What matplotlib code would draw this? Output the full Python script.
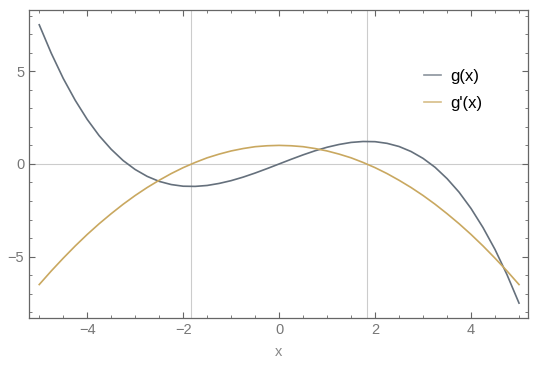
import matplotlib.pyplot as plt
from matplotlib.ticker import MultipleLocator

# sample points
x = [-5.0, -4.75, -4.5, -4.25, -4.0, -3.75, -3.5, -3.25, -3.0, -2.75, -2.5,
     -2.25, -2.0, -1.75, -1.5, -1.25, -1.0, -0.75, -0.5, -0.25, 0.0,
     0.25, 0.5, 0.75, 1.0, 1.25, 1.5, 1.75, 2.0, 2.25, 2.5,
     2.75, 3.0, 3.25, 3.5, 3.75, 4.0, 4.25, 4.5, 4.75, 5.0]
g = [7.5, 5.97, 4.61, 3.43, 2.4, 1.52, 0.79, 0.18, -0.3, -0.67, -0.94,
     -1.11, -1.2, -1.21, -1.16, -1.05, -0.9, -0.71, -0.49, -0.25, 0.0,
     0.25, 0.49, 0.71, 0.9, 1.05, 1.16, 1.21, 1.2, 1.11, 0.94,
     0.67, 0.3, -0.18, -0.79, -1.52, -2.4, -3.43, -4.61, -5.97, -7.5]
dg = [-6.5, -5.77, -5.08, -4.42, -3.8, -3.22, -2.68, -2.17, -1.7, -1.27, -0.88,
      -0.52, -0.2, 0.08, 0.33, 0.53, 0.7, 0.83, 0.93, 0.98, 1.0,
      0.98, 0.93, 0.83, 0.7, 0.53, 0.33, 0.08, -0.2, -0.52, -0.88,
      -1.27, -1.7, -2.17, -2.68, -3.22, -3.8, -4.42, -5.08, -5.77, -6.5]
grid_x = [-1.83, 1.83]
grid_y = [0]

plt.rcParams['font.family'] = ['Liberation Sans', 'DejaVu Sans']

fig = plt.figure(figsize=(5.4, 3.68), dpi=100)
ax = fig.add_axes([0.054, 0.136, 0.924, 0.837])

for gx in grid_x:
    ax.axvline(gx, color="#cccccc", lw=0.8, zorder=0)
for gy in grid_y:
    ax.axhline(gy, color="#cccccc", lw=0.8, zorder=0)

ax.plot(x, g, color="#65707c", lw=1.2, label="g(x)")
ax.plot(x, dg, color="#c9a860", lw=1.2, label="g'(x)")

ax.set_xlim(-5.21, 5.19)
ax.set_ylim(-8.3, 8.3)
ax.xaxis.set_major_locator(MultipleLocator(2))
ax.xaxis.set_minor_locator(MultipleLocator(0.5))
ax.yaxis.set_major_locator(MultipleLocator(5))
ax.yaxis.set_minor_locator(MultipleLocator(1))
ax.tick_params(which="both", direction="in", top=True, right=True,
               color="#666666", labelcolor="#777777", labelsize=10.5)
ax.tick_params(which="major", length=4, width=0.8)
ax.tick_params(which="minor", length=2.5, width=0.6)
for s in ax.spines.values():
    s.set_color("#666666")
    s.set_linewidth(0.9)

ax.set_xlabel("x", color="#888888", fontsize=10.5, labelpad=6)

leg = ax.legend(loc="upper left", bbox_to_anchor=(0.762, 0.856), frameon=False,
                handlelength=1.0, handletextpad=0.55, fontsize=12, labelspacing=0.7)
for h in leg.get_lines():
    h.set_alpha(0.75)

fig.savefig("out.png")
